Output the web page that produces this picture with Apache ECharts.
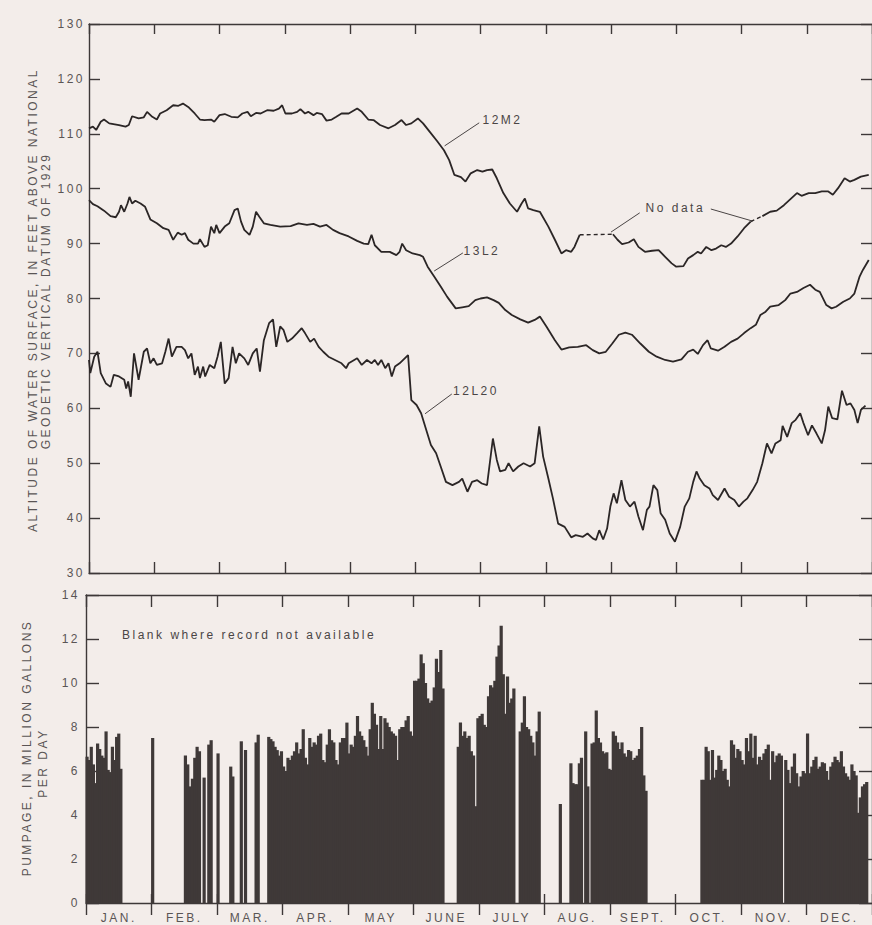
<!DOCTYPE html>
<html>
<head>
<meta charset="utf-8">
<title>Water levels and pumpage</title>
<script src="https://cdn.jsdelivr.net/npm/echarts@6.0.0/dist/echarts.min.js"></script>
<style>
  html, body { margin: 0; padding: 0; background: #f3edea; }
  #chart { width: 872px; height: 925px; }
  /* lettering on the original plate is widely spaced */
  #chart text { letter-spacing: 2.5px; }
</style>
</head>
<body>
<div id="chart"></div>
<script>
// x values are in months from Jan 1 (the plate draws every month the same width)
const monthLabels = ['JAN.', 'FEB.', 'MAR.', 'APR.', 'MAY', 'JUNE', 'JULY', 'AUG.', 'SEPT.', 'OCT.', 'NOV.', 'DEC.'];

// water level, feet above NGVD 1929  [month, altitude]
const well12M2 = [
  [0.0,111.0],[0.06,111.3],[0.11,110.7],[0.18,112.2],[0.23,112.6],[0.31,111.9],[0.46,111.6],[0.56,111.3],[0.61,111.6],[0.66,113.2],
  [0.76,112.8],[0.84,113.0],[0.89,114.0],[0.97,113.1],[1.04,112.6],[1.09,113.7],[1.19,114.3],[1.29,115.2],[1.37,115.1],[1.44,115.5],
  [1.52,114.9],[1.62,113.7],[1.70,112.6],[1.77,112.5],[1.87,112.6],[1.92,112.2],[2.00,113.4],[2.08,113.6],[2.18,113.1],[2.28,113.0],
  [2.35,113.7],[2.43,114.0],[2.48,113.2],[2.56,113.8],[2.63,113.7],[2.73,114.3],[2.83,114.2],[2.91,114.6],[2.96,115.2],[3.01,113.7],
  [3.11,113.7],[3.19,114.0],[3.24,114.5],[3.31,113.7],[3.36,114.0],[3.44,113.4],[3.49,113.8],[3.57,113.6],[3.64,112.4],[3.72,112.6],
  [3.79,113.1],[3.87,113.7],[3.98,113.7],[4.11,114.6],[4.18,114.0],[4.28,112.6],[4.36,112.5],[4.46,111.6],[4.59,111.0],[4.69,111.6],
  [4.79,112.5],[4.86,111.6],[4.94,111.9],[5.04,112.8],[5.12,111.9],[5.22,110.4],[5.34,108.6],[5.44,107.0],[5.52,105.2],[5.60,102.5],
  [5.70,102.1],[5.77,101.3],[5.85,102.8],[5.95,103.4],[6.03,103.1],[6.10,103.4],[6.18,103.5],[6.25,101.9],[6.35,99.2],[6.45,97.3],
  [6.56,95.8],[6.63,97.3],[6.68,98.2],[6.73,96.4],[6.81,96.1],[6.91,95.8],[7.04,93.1],[7.14,90.7],[7.24,88.2],[7.31,88.8],
  [7.39,88.5],[7.44,89.4],[7.52,91.6],[7.8,null],[8.03,91.7],[8.10,90.7],[8.17,89.9],[8.27,90.2],[8.35,90.8],[8.42,89.4],
  [8.52,88.5],[8.63,88.7],[8.73,88.8],[8.83,87.6],[8.93,86.4],[9.00,85.8],[9.11,85.9],[9.18,87.3],[9.26,87.9],[9.33,88.5],
  [9.38,88.2],[9.46,89.4],[9.54,88.8],[9.61,89.1],[9.69,89.7],[9.76,89.4],[9.84,90.0],[9.94,91.3],[10.04,92.8],[10.14,94.0],
  [10.22,null],[10.32,95.0],[10.44,95.8],[10.54,96.0],[10.65,97.0],[10.75,98.1],[10.85,99.2],[10.92,98.7],[11.03,99.2],[11.13,99.2],
  [11.23,99.5],[11.33,99.5],[11.40,98.9],[11.48,100.1],[11.58,101.9],[11.66,101.3],[11.73,101.6],[11.83,102.2],[11.95,102.5]
];
// gaps in the 12M2 record, bridged with a dashed line
const well12M2NoData = [[7.52,91.6],[8.03,91.7],[9.0,null],[10.14,94.0],[10.32,95.0]];

const well13L2 = [
  [0.0,97.9],[0.06,97.2],[0.13,96.8],[0.23,96.0],[0.33,95.0],[0.41,94.8],[0.46,95.8],[0.49,97.0],[0.54,95.8],[0.59,97.3],
  [0.62,98.5],[0.66,97.3],[0.71,97.8],[0.79,97.3],[0.86,96.7],[0.94,94.4],[1.04,93.7],[1.14,92.8],[1.22,92.5],[1.29,90.7],
  [1.36,92.0],[1.42,91.6],[1.47,91.9],[1.52,90.7],[1.60,90.0],[1.67,90.0],[1.70,90.8],[1.77,89.4],[1.82,89.7],[1.87,93.1],
  [1.92,91.9],[1.95,93.4],[2.00,91.9],[2.08,93.1],[2.15,93.7],[2.23,96.1],[2.28,96.4],[2.33,94.0],[2.38,92.5],[2.46,91.6],
  [2.51,93.1],[2.56,95.8],[2.61,94.9],[2.68,93.7],[2.78,93.4],[2.93,93.1],[3.09,93.2],[3.21,93.7],[3.34,93.4],[3.44,93.6],
  [3.54,93.1],[3.64,93.4],[3.74,92.5],[3.84,91.9],[3.98,91.3],[4.11,90.5],[4.21,90.0],[4.28,89.9],[4.33,91.6],[4.38,89.7],
  [4.48,88.5],[4.61,88.5],[4.71,87.9],[4.76,88.5],[4.80,90.0],[4.86,88.8],[4.96,88.2],[5.07,87.9],[5.12,87.6],[5.19,85.8],
  [5.29,84.0],[5.39,82.2],[5.49,80.3],[5.62,78.2],[5.72,78.4],[5.82,78.6],[5.92,79.7],[6.00,80.0],[6.10,80.2],[6.20,79.7],
  [6.28,79.2],[6.38,77.9],[6.48,77.0],[6.61,76.2],[6.73,75.6],[6.83,76.1],[6.91,76.7],[7.01,74.9],[7.14,72.4],[7.24,70.7],
  [7.36,71.1],[7.49,71.2],[7.62,71.5],[7.72,70.6],[7.82,70.0],[7.92,70.3],[8.02,71.8],[8.12,73.4],[8.22,73.8],[8.32,73.4],
  [8.45,71.8],[8.58,70.3],[8.70,69.4],[8.83,68.8],[8.95,68.5],[9.08,68.9],[9.18,70.3],[9.26,70.7],[9.33,69.9],[9.41,71.5],
  [9.48,72.4],[9.53,70.9],[9.64,70.5],[9.74,71.2],[9.84,72.1],[9.94,72.7],[10.04,73.7],[10.14,74.6],[10.22,75.2],[10.29,77.0],
  [10.37,77.6],[10.44,78.5],[10.57,78.8],[10.67,79.7],[10.75,80.9],[10.85,81.2],[10.95,81.9],[11.05,82.5],[11.13,81.6],[11.20,81.2],
  [11.30,78.8],[11.38,78.2],[11.45,78.5],[11.56,79.4],[11.66,80.0],[11.73,80.9],[11.81,84.0],[11.86,85.2],[11.95,87.0]
];

const well12L20 = [
  [0.0,68.8],[0.02,66.4],[0.08,69.4],[0.13,70.3],[0.18,66.4],[0.26,64.5],[0.33,63.9],[0.38,66.1],[0.46,65.8],[0.54,65.2],
  [0.57,63.6],[0.60,64.9],[0.64,62.1],[0.69,70.0],[0.76,65.2],[0.84,70.3],[0.89,70.9],[0.94,68.2],[0.99,69.1],[1.04,67.9],
  [1.12,68.2],[1.17,70.3],[1.22,72.7],[1.27,69.4],[1.34,71.2],[1.42,71.2],[1.47,70.6],[1.52,69.1],[1.57,70.0],[1.62,66.1],
  [1.67,67.6],[1.70,65.5],[1.75,67.6],[1.78,65.8],[1.85,67.9],[1.92,67.3],[1.97,69.4],[2.02,72.1],[2.08,64.5],[2.14,65.5],
  [2.20,71.2],[2.25,68.2],[2.30,70.0],[2.38,69.1],[2.44,67.9],[2.51,70.0],[2.57,70.9],[2.62,66.7],[2.68,72.4],[2.76,75.5],
  [2.82,76.2],[2.87,71.2],[2.93,74.9],[2.98,74.3],[3.04,72.1],[3.11,72.7],[3.19,73.7],[3.26,74.6],[3.31,73.7],[3.39,72.1],
  [3.45,72.7],[3.52,71.2],[3.59,70.3],[3.67,69.4],[3.77,68.8],[3.87,68.2],[3.94,67.3],[3.98,68.2],[4.11,69.1],[4.18,67.9],
  [4.26,68.8],[4.33,68.2],[4.38,68.8],[4.43,67.9],[4.48,68.8],[4.54,67.3],[4.59,68.2],[4.64,65.8],[4.69,67.6],[4.76,68.2],
  [4.89,69.7],[4.91,66.4],[4.94,61.5],[5.02,60.6],[5.09,59.1],[5.17,56.0],[5.24,53.3],[5.32,51.8],[5.39,49.4],[5.47,46.6],
  [5.57,46.0],[5.67,46.6],[5.72,47.2],[5.80,44.8],[5.87,46.6],[5.95,46.9],[6.02,46.3],[6.10,46.0],[6.19,54.5],[6.25,50.6],
  [6.30,48.5],[6.38,48.8],[6.43,50.0],[6.50,48.5],[6.58,49.4],[6.66,50.0],[6.76,49.4],[6.83,50.0],[6.90,56.7],[6.96,51.2],
  [7.04,47.2],[7.11,43.6],[7.19,39.0],[7.29,38.4],[7.39,36.5],[7.46,36.9],[7.57,36.6],[7.64,37.2],[7.72,36.3],[7.77,36.0],
  [7.82,37.8],[7.88,36.1],[7.94,38.1],[7.99,42.1],[8.04,44.5],[8.09,42.7],[8.16,46.9],[8.22,43.3],[8.29,42.1],[8.36,43.0],
  [8.42,40.3],[8.49,37.8],[8.55,41.5],[8.59,42.1],[8.65,46.0],[8.71,45.1],[8.76,40.9],[8.83,39.7],[8.90,37.2],[8.98,35.7],
  [9.06,38.4],[9.13,42.1],[9.20,43.6],[9.26,46.6],[9.31,48.5],[9.36,47.2],[9.43,46.0],[9.51,45.4],[9.56,44.2],[9.64,43.3],
  [9.74,45.4],[9.81,43.9],[9.89,43.3],[9.96,42.1],[10.03,43.0],[10.09,43.6],[10.17,45.1],[10.24,46.6],[10.32,50.0],[10.39,53.6],
  [10.46,51.8],[10.52,53.6],[10.60,54.2],[10.63,56.8],[10.70,54.8],[10.77,57.3],[10.83,57.9],[10.90,59.1],[10.95,57.3],[11.02,55.1],
  [11.08,56.9],[11.15,55.4],[11.23,53.6],[11.28,56.0],[11.33,60.3],[11.39,58.2],[11.47,58.0],[11.54,63.2],[11.61,60.6],[11.67,60.9],
  [11.73,59.7],[11.78,57.3],[11.83,59.7],[11.90,60.5]
];

// daily pumpage, million gallons per day (null = record not available)
const pumpJan = [6.65,6.5,7.1,6.3,5.45,7.25,7.0,6.7,6.6,7.8,6.05,5.95,7.1,6.5,7.55,7.7,6.1,
  null,null,null,null,null,null,null,null,null,null,null,null,null,null];
const pumpFeb = [7.5,null,null,null,null,null,null,null,null,null,null,null,null,null,
  6.7,6.3,5.3,5.65,6.6,7.1,6.9,null,5.7,null,7.2,7.4,null,null];
const pumpMar = [6.8,null,null,null,null,null,6.2,5.75,null,null,null,7.35,null,6.95,null,null,null,null,
  7.3,7.65,null,null,null,null,7.55,7.45,7.35,7.1,6.95,6.7,6.9];
const pumpApr = [6.2,6.0,6.6,6.5,6.7,6.9,7.3,6.8,7.0,7.9,6.6,6.3,7.5,7.1,7.3,7.2,7.6,7.7,6.5,6.4,
  7.2,7.9,7.4,7.3,6.5,6.3,7.3,7.5,7.5,8.2];
const pumpMay = [6.8,7.2,7.1,7.6,8.5,7.8,7.6,7.4,7.1,6.7,7.9,9.1,8.6,8.1,7.0,8.5,7.0,8.4,8.2,8.0,
  7.8,7.7,7.6,6.5,7.9,8.0,8.0,8.3,8.5,7.8,7.6];
const pumpJun = [10.1,10.1,10.2,11.3,10.9,10.0,9.3,9.1,9.2,9.8,11.1,10.5,11.5,9.75,
  null,null,null,null,null,null,7.1,8.2,7.6,7.8,7.5,7.6,6.9,6.7,4.4,8.4];
const pumpJul = [8.5,8.6,8.1,8.0,9.4,9.9,9.8,10.1,11.2,11.7,12.6,10.4,8.6,10.3,9.1,9.3,9.75,
  null,null,7.8,8.2,9.4,8.0,7.9,7.6,7.3,6.7,7.8,8.7,null,null];
const pumpAug = [null,null,null,null,null,null,null,4.5,null,null,null,null,
  6.35,5.45,5.4,5.4,6.35,6.6,null,7.8,5.3,null,7.25,7.3,8.75,7.5,7.3,6.9,6.8,6.85,6.1];
const pumpSep = [6.05,7.8,7.6,7.3,7.0,7.3,6.8,6.65,6.95,6.9,6.5,6.6,6.7,7.0,8.0,5.8,5.1,
  null,null,null,null,null,null,null,null,null,null,null,null,null];
const pumpOct = [null,null,null,null,null,null,null,null,null,null,null,null,
  5.6,5.6,7.1,6.9,5.6,6.95,5.7,6.05,6.7,6.5,6.0,6.1,5.6,5.3,7.4,7.2,6.6,7.0,6.9];
const pumpNov = [6.5,6.3,7.5,6.9,7.7,6.6,7.6,6.3,6.65,6.5,6.8,7.0,7.2,5.6,6.9,6.4,6.7,6.8,6.7,null,
  6.5,6.05,5.45,6.2,6.8,5.9,5.3,5.75,6.0,5.9];
const pumpDec = [7.7,5.9,6.2,6.5,6.65,6.1,6.2,6.4,6.35,6.0,5.6,6.2,6.4,6.65,6.5,6.4,6.9,6.2,5.9,5.75,
  5.6,6.3,6.0,5.8,4.1,4.8,5.3,5.4,5.5,null,null];

// annotation anchors, in data units of the upper chart
const wellNotes = [
  { text: '12M2', at: [6.03, 112.5] },
  { text: '13L2', at: [5.74, 88.7] },
  { text: '12L20', at: [5.58, 63.2] },
  { text: 'No data', at: [8.53, 96.5] }
];
const leaderLines = [
  [[5.45, 107.8], [5.98, 112.0]],
  [[5.29, 85.0], [5.73, 88.3]],
  [[5.15, 59.0], [5.56, 62.6]],
  [[8.00, 92.1], [8.44, 95.6]],
  [[9.53, 96.3], [10.17, 94.1]]
];

const ink = '#2b2626';
const axisInk = '#3d3838';
const labelInk = '#5a5555';
const barInk = '#3f3938';
const font = '"Liberation Sans", Arial, sans-serif';

// one bar per day, centred in its day slot of the month
const pumpByMonth = [pumpJan, pumpFeb, pumpMar, pumpApr, pumpMay, pumpJun, pumpJul, pumpAug, pumpSep, pumpOct, pumpNov, pumpDec];
const pumpage = [];
pumpByMonth.forEach((days, mi) => {
  days.forEach((v, di) => {
    if (v != null) pumpage.push([mi + (di + 0.5) / days.length, v]);
  });
});

const chart = echarts.init(document.getElementById('chart'), null, { renderer: 'svg' });

const lineAxis = { lineStyle: { color: axisInk, width: 1.4 }, onZero: false };
const tickStyle = { color: axisInk, width: 1.4 };

function monthAxis(grid, position, inside, length, showLine) {
  return {
    gridIndex: grid, type: 'value', min: 0, max: 12, interval: 1, position: position,
    axisLine: Object.assign({ show: showLine !== false }, lineAxis),
    axisTick: { inside: inside, length: length, lineStyle: tickStyle },
    axisLabel: { show: false }, splitLine: { show: false }
  };
}

function levelAxis(grid, position, min, max, step, showLabel, margin, tickLen) {
  return {
    gridIndex: grid, type: 'value', min: min, max: max, interval: step, position: position,
    axisLine: Object.assign({ show: true }, lineAxis),
    axisTick: { inside: true, length: tickLen, lineStyle: tickStyle },
    axisLabel: { show: showLabel, margin: margin, color: labelInk, fontSize: 12, fontFamily: font },
    splitLine: { show: false }
  };
}

function wellSeries(data, dashed) {
  return {
    type: 'line', xAxisIndex: 0, yAxisIndex: 0, data: data, symbol: 'none',
    connectNulls: false, silent: true,
    lineStyle: { color: ink, width: dashed ? 1.4 : 1.8, type: dashed ? [4, 3] : 'solid' }
  };
}

chart.setOption({
  animation: false,
  backgroundColor: '#f3edea',
  grid: [
    { left: 89, top: 24, width: 792, height: 549 },
    { left: 86, top: 595, width: 792, height: 308 }
  ],
  xAxis: [
    monthAxis(0, 'bottom', true, 11),
    monthAxis(0, 'top', true, 10),
    monthAxis(1, 'bottom', false, 12),
    monthAxis(1, 'top', true, 12),
    {
      gridIndex: 1, type: 'category', data: monthLabels, position: 'bottom', boundaryGap: true,
      axisLine: { show: false }, axisTick: { show: false },
      axisLabel: { margin: 9, color: labelInk, fontSize: 12, fontFamily: font }
    },
    monthAxis(1, 'bottom', true, 9, false)
  ],
  yAxis: [
    levelAxis(0, 'left', 30, 130, 10, true, 4, 11),
    levelAxis(0, 'right', 30, 130, 10, false, 4, 11),
    levelAxis(1, 'left', 0, 14, 2, true, 6, 13),
    levelAxis(1, 'right', 0, 14, 2, false, 6, 13)
  ],
  series: [
    wellSeries(well12M2),
    wellSeries(well12M2NoData, true),
    wellSeries(well13L2),
    wellSeries(well12L20),
    {
      // bars a little wider than a day so neighbouring days join up
      type: 'bar', xAxisIndex: 2, yAxisIndex: 2, data: pumpage, barWidth: 3.2,
      silent: true, itemStyle: { color: barInk }
    }
  ]
});

// titles, notes and leader lines
const toTop = p => chart.convertToPixel({ xAxisIndex: 0, yAxisIndex: 0 }, p);
const toBottom = p => chart.convertToPixel({ xAxisIndex: 2, yAxisIndex: 2 }, p);

function vText(text, x, y) {
  return {
    type: 'text', x: x, y: y, rotation: Math.PI / 2, silent: true,
    style: { text: text, fill: labelInk, font: '12px ' + font, textAlign: 'center', textVerticalAlign: 'middle' }
  };
}

const graphics = [
  vText('ALTITUDE OF WATER SURFACE, IN FEET ABOVE NATIONAL', 33, 300),
  vText('GEODETIC VERTICAL DATUM OF 1929', 46, 301),
  vText('PUMPAGE, IN MILLION GALLONS', 27, 748),
  vText('PER DAY', 43, 763)
];

leaderLines.forEach(seg => {
  const a = toTop(seg[0]);
  const b = toTop(seg[1]);
  graphics.push({
    type: 'line', silent: true,
    shape: { x1: a[0], y1: a[1], x2: b[0], y2: b[1] },
    style: { stroke: '#4a4545', lineWidth: 1 }
  });
});

wellNotes.forEach(n => {
  const p = toTop(n.at);
  graphics.push({
    type: 'text', x: p[0], y: p[1], silent: true,
    style: { text: n.text, fill: '#4a4545', font: '12px ' + font, textAlign: 'left', textVerticalAlign: 'middle' }
  });
});

const blankAt = toBottom([0.55, 12.2]);
graphics.push({
  type: 'text', x: blankAt[0], y: blankAt[1], silent: true,
  style: { text: 'Blank where record not available', fill: '#4a4545', font: '12px ' + font, textAlign: 'left', textVerticalAlign: 'middle' }
});

chart.setOption({ graphic: graphics });
</script>
</body>
</html>
